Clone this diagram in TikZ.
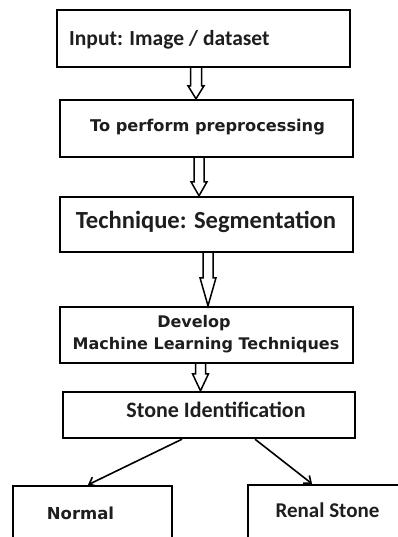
\documentclass[tikz,border=0pt]{standalone}
\usepackage{fontspec}
\setmainfont{Carlito}
\newfontfamily\boldsans{DejaVu Sans}
\usetikzlibrary{arrows.meta,calc}
\definecolor{inkgray}{HTML}{1E1E1E}
\tikzset{
  stepbox/.style={draw=black, line width=2.4pt, inner sep=0pt},
  labelA/.style={text=inkgray, inner sep=0pt},
  labelB/.style={text=inkgray, inner sep=0pt},
  harrow/.style={draw=black, line width=1.5pt, fill=white, line join=miter},
  diag/.style={draw=black, line width=1.6pt, -{Straight Barb[length=6pt,width=10pt,line width=1.6pt]}}
}
% hollow block arrow: from node, to node, centre x, shaft half-width, head half-width, head length
\newcommand\hollowarrow[6]{%
  \draw[harrow] let \p1=(#1.south), \p2=(#2.north) in
    (#3pt-#4pt,\y1) -- (#3pt-#4pt,\y2+#6pt) -- (#3pt-#5pt,\y2+#6pt) -- (#3pt,\y2)
    -- (#3pt+#5pt,\y2+#6pt) -- (#3pt+#4pt,\y2+#6pt) -- (#3pt+#4pt,\y1);}
\begin{document}
\begin{tikzpicture}[x=1pt,y=-1pt]
\useasboundingbox (0,0) rectangle (398,537);
\fill[white] (0,0) rectangle (398,537);

% process boxes
\node[stepbox, minimum width=293pt, minimum height=57pt] (b1) at (203.5,38.5) {};
\node[stepbox, minimum width=293pt, minimum height=57pt] (b2) at (206.5,128.5) {};
\node[stepbox, minimum width=293pt, minimum height=55pt] (b3) at (206.5,224.5) {};
\node[stepbox, minimum width=293pt, minimum height=56pt] (b4) at (206.5,335) {};
\node[stepbox, minimum width=292pt, minimum height=46pt] (b5) at (209,415) {};
\node[stepbox, minimum width=159pt, minimum height=74pt] (nor) at (92.5,523) {};
\node[stepbox, minimum width=172pt, minimum height=75pt] (ren) at (334,522.5) {};

% box texts
\node[labelA, anchor=west, font=\fontsize{21.5}{25}\selectfont\bfseries] (t1) at (69,40) {Input: Image / dataset};
\node[labelB, font=\fontsize{16.2}{19}\selectfont\boldsans\bfseries] (t2) at (207.5,127) {To perform preprocessing};
\node[labelA, font=\fontsize{24.6}{28}\selectfont\bfseries] (t3) at (206,222) {Technique: Segmentation};
\node[labelB, font=\fontsize{16}{19}\selectfont\boldsans\bfseries] (t4a) at (194,323) {Develop};
\node[labelB, font=\fontsize{16}{19}\selectfont\boldsans\bfseries] (t4b) at (206,345) {Machine Learning Techniques};
\node[labelA, font=\fontsize{22}{26}\selectfont\bfseries] (t5) at (216,410) {Stone Identification};
\node[labelB, font=\fontsize{16.5}{19}\selectfont\boldsans\bfseries] (t6) at (80.5,513) {Normal};
\node[labelA, font=\fontsize{21}{25}\selectfont\bfseries] (t7) at (327.5,510) {Renal Stone};

% flow arrows
\hollowarrow{b1}{b2}{196}{5.5}{8}{13}
\hollowarrow{b2}{b3}{199}{5}{8}{14}
\hollowarrow{b3}{b4}{208}{5}{8}{28}
\hollowarrow{b4}{b5}{200.5}{5}{8}{17}

% branches
\draw[diag] ([xshift=-27pt]b5.south) -- ([xshift=-4.5pt]nor.north);
\draw[diag] ([xshift=46pt]b5.south) -- ([xshift=-22pt]ren.north);
\end{tikzpicture}
\end{document}
